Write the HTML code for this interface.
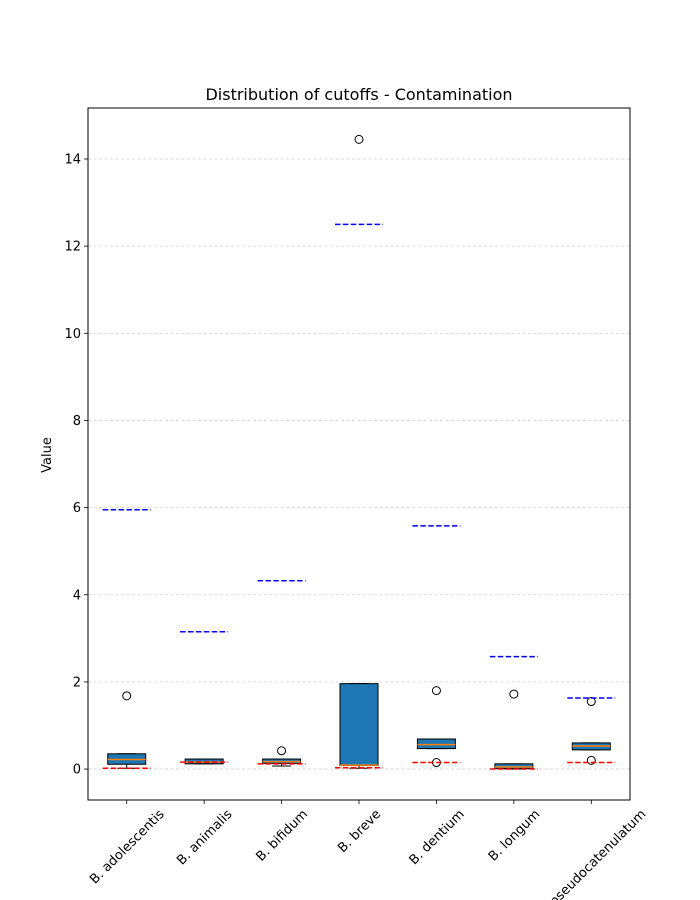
<!DOCTYPE html>
<html><head><meta charset="utf-8"><style>
body{margin:0;background:#fff;}
svg{display:block;font-family:"DejaVu Sans","Liberation Sans",sans-serif;}
</style></head><body>
<svg id="chart" width="700" height="900" xmlns="http://www.w3.org/2000/svg"></svg>
<script>
const categories=["B. adolescentis","B. animalis","B. bifidum","B. breve","B. dentium","B. longum","B. pseudocatenulatum"];
const q1=[0.11,0.12,0.13,0.08,0.47,0.01,0.44];
const medians=[0.22,0.16,0.17,0.09,0.56,0.05,0.53];
const q3=[0.35,0.23,0.23,1.96,0.69,0.12,0.60];
const whiskLo=[0.02,0.12,0.07,0.02,0.47,0.0,0.44];
const whiskHi=[0.35,0.23,0.23,1.96,0.69,0.12,0.60];
const outliers=[[1.68],[],[0.42],[14.45],[1.8,0.15],[1.72],[1.55,0.2]];
const redCut=[0.02,0.16,0.12,0.03,0.15,0.0,0.15];
const blueCut=[5.95,3.15,4.32,12.5,5.58,2.58,1.63];
const yTicks=[0,2,4,6,8,10,12,14];

const svg=document.getElementById('chart');
const NS="http://www.w3.org/2000/svg";
const L=88,R=630,T=108,B=800,yMin=-0.71,yMax=15.17;
const y=v=>B-(v-yMin)/(yMax-yMin)*(B-T);
const step=(R-L)/categories.length;
const x=i=>L+step*(i+0.5);
function mk(tag,attrs,parent){const e=document.createElementNS(NS,tag);for(const k in attrs)e.setAttribute(k,attrs[k]);(parent||svg).appendChild(e);return e;}

// grid
yTicks.forEach(t=>{
  const g=mk('line',{x1:L,x2:R,y1:y(t),y2:y(t),stroke:'#d0d0d0','stroke-width':0.8,'stroke-dasharray':'3,2.5'});
  
  
});
// boxes
categories.forEach((c,i)=>{
  const cx=x(i),hw=19;
  const grp=mk('g',{});
  
  
  mk('line',{x1:cx,x2:cx,y1:y(q1[i]),y2:y(whiskLo[i]),stroke:'#000','stroke-width':1},grp);
  mk('line',{x1:cx-hw/2,x2:cx+hw/2,y1:y(whiskLo[i]),y2:y(whiskLo[i]),stroke:'#000','stroke-width':1},grp);
  mk('line',{x1:cx,x2:cx,y1:y(q3[i]),y2:y(whiskHi[i]),stroke:'#000','stroke-width':1},grp);
  mk('line',{x1:cx-hw/2,x2:cx+hw/2,y1:y(whiskHi[i]),y2:y(whiskHi[i]),stroke:'#000','stroke-width':1},grp);
  mk('rect',{x:cx-hw,y:y(q3[i]),width:2*hw,height:Math.max(1,y(q1[i])-y(q3[i])),fill:'#1f77b4',stroke:'#000','stroke-width':1},grp);
  mk('line',{x1:cx-hw,x2:cx+hw,y1:y(medians[i]),y2:y(medians[i]),stroke:'#ff7f0e','stroke-width':1.5},grp);
  outliers[i].forEach(o=>{
    const p=mk('circle',{cx:cx,cy:y(o),r:4,fill:'none',stroke:'#000','stroke-width':1});
    
    
  });
  const r=mk('line',{x1:cx-24,x2:cx+24,y1:y(redCut[i]),y2:y(redCut[i]),stroke:'#ff0000','stroke-width':1.5,'stroke-dasharray':'5.5,2.4'});
  
  
  const b=mk('line',{x1:cx-24,x2:cx+24,y1:y(blueCut[i]),y2:y(blueCut[i]),stroke:'#0000ff','stroke-width':1.5,'stroke-dasharray':'5.5,2.4'});
  
  
});
// frame
const fr=mk('rect',{x:L,y:T,width:R-L,height:B-T,fill:'none',stroke:'#000','stroke-width':1});


// y ticks
yTicks.forEach(t=>{
  mk('line',{x1:L-4,x2:L,y1:y(t),y2:y(t),stroke:'#000','stroke-width':0.8});
  const tx=mk('text',{x:L-7,y:y(t)+4.5,'text-anchor':'end','font-size':13});
  tx.textContent=t;
  
  
});
// x ticks
categories.forEach((c,i)=>{
  const cx=x(i);
  mk('line',{x1:cx,x2:cx,y1:B,y2:B+4,stroke:'#000','stroke-width':0.8});
  const tx=mk('text',{'text-anchor':'middle','font-size':13});
  tx.textContent=c;
  
  
  const w=tx.getComputedTextLength(),h=13;
  const cy=B+7+(w+h)*0.7071/2;
  tx.setAttribute('x',cx);tx.setAttribute('y',cy+4.5);
  tx.setAttribute('transform','rotate(-45 '+cx+' '+cy+')');
});
const title=mk('text',{x:(L+R)/2,y:100,'text-anchor':'middle','font-size':16});
title.textContent='Distribution of cutoffs - Contamination';


const yl=mk('text',{x:0,y:0,'text-anchor':'middle','font-size':13,transform:'translate(51,455) rotate(-90)'});
yl.textContent='Value';


</script>
</body></html>
